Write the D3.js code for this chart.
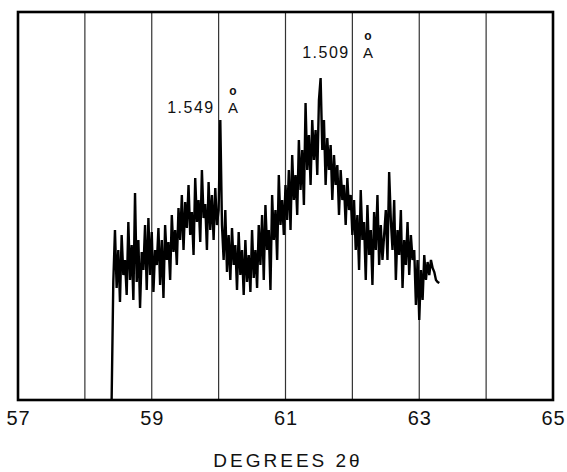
<!DOCTYPE html>
<html><head><meta charset="utf-8">
<script src="https://cdn.jsdelivr.net/npm/d3@7"></script>
<style>
html,body{margin:0;padding:0;background:#fff;}
svg{display:block;}
text{font-family:"Liberation Sans",Arial,sans-serif;fill:#111;}
</style></head>
<body>
<svg id="chart" width="567" height="472"></svg>
<script>
// ---- data ----
const xTicks = [57, 59, 61, 63, 65];
const gridLines = [58, 59, 60, 61, 62, 63, 64];
const angleStart = 58.4;   // degrees 2θ of first sample
const angleStep = 0.025;   // degrees between samples
const counts = [
  0,
  118, 170, 112, 150, 98, 165, 125, 140, 105, 178, 120, 155, 100, 207, 118, 160, 92, 148, 130, 175, 110, 182,
  125, 168, 108, 150, 135, 172, 115, 160, 102, 175, 140, 158, 120, 185, 148, 170, 135, 192,
  160, 205, 150, 198, 172, 215, 165, 188, 145, 222, 178, 200, 158, 230, 182, 196, 150, 218, 170, 205, 160, 212, 175, 190,
  280, 175, 140, 190, 128, 165, 120, 172, 135, 155, 110, 168, 125, 150, 105, 160, 118, 145, 108, 170, 122, 150, 112, 175,
  135, 185, 120, 195, 150, 170, 110, 205, 160, 190, 140, 225, 175, 200, 165, 215,
  180, 230, 170, 245, 200, 225, 185, 260, 210, 250, 195, 297, 230, 265, 215, 280, 240, 270, 225, 300,
  322, 250, 280, 215, 262, 230, 255, 200, 245, 215, 235, 185, 230, 200, 215, 175, 222, 190, 205, 165,
  200, 150, 185, 130, 210, 160, 178, 120, 195, 145, 170, 115, 188, 150, 205, 135, 175, 140, 165, 190, 140, 228, 180, 150, 200, 120, 170, 145, 190, 112, 160, 135, 178, 125, 165, 140,
  150, 95, 140, 80, 130, 100, 145, 120,
  138, 125, 140, 132, 128, 120, 118, 117
];
const peakLabels = ["1.549", "1.509"];
const xTitle = "DEGREES 2θ";

// ---- layout ----
const svg = d3.select("#chart");
const x = d3.scaleLinear().domain([57, 65]).range([18, 553]);
const y = d3.scaleLinear().domain([0, 388]).range([400, 12]);

const series = counts.map((c, i) => ({a: angleStart + i * angleStep, c}));

// gridlines
svg.append("g").selectAll("line").data(gridLines).join("line")
  .attr("x1", d => x(d)).attr("x2", d => x(d))
  .attr("y1", y(388)).attr("y2", y(0))
  .attr("stroke", "#333").attr("stroke-width", 1.2);

// frame
svg.append("rect")
  .attr("x", x(57)).attr("y", y(388))
  .attr("width", x(65) - x(57)).attr("height", y(0) - y(388))
  .attr("fill", "none").attr("stroke", "#000").attr("stroke-width", 2.6);

// trace
const line = d3.line().x(d => x(d.a)).y(d => y(d.c));
svg.append("path").datum(series)
  .attr("d", line).attr("fill", "none")
  .attr("stroke", "#000").attr("stroke-width", 2.4).attr("stroke-linejoin", "miter");

// x axis (labels only)
const axis = d3.axisBottom(x).tickValues(xTicks).tickSize(0).tickPadding(0).tickFormat(d3.format("d"));
const ag = svg.append("g").attr("transform", `translate(0,${y(0)})`).call(axis);
ag.select(".domain").remove();
ag.selectAll("text").attr("dy", null).attr("y", 25)
  .style("font-size", "20px").style("letter-spacing", "1px").attr("fill", "#111");

// axis title
svg.append("text").attr("x", 288).attr("y", 467).attr("text-anchor", "middle")
  .style("font-size", "19px").style("letter-spacing", "3px").text(xTitle);

// peak labels
const labelPos = [{dx: 195, by: 113}, {dx: 330, by: 58}];
peakLabels.forEach((t, i) => {
  const p = labelPos[i];
  svg.append("text").attr("x", p.dx - 4).attr("y", p.by).attr("text-anchor", "middle")
    .style("font-size", "16px").style("letter-spacing", "1.5px").text(t);
  const ax = p.dx + 38;
  svg.append("text").attr("x", ax).attr("y", p.by).attr("text-anchor", "middle")
    .style("font-size", "15px").text("A");
  svg.append("text").attr("x", ax).attr("y", p.by - 18).attr("text-anchor", "middle")
    .style("font-size", "12px").style("font-weight", "bold").text("o");
});
</script>
</body></html>
